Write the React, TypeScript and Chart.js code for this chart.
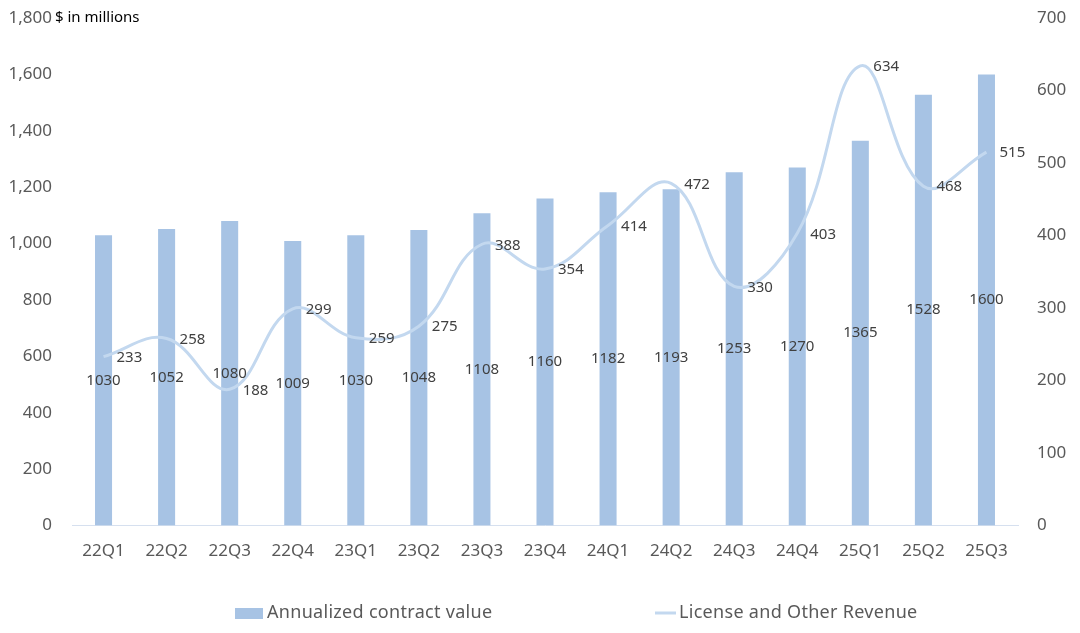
import React, { useEffect, useRef } from "react";
import { Chart, registerables } from "chart.js";

Chart.register(...registerables);

const categories = ["22Q1","22Q2","22Q3","22Q4","23Q1","23Q2","23Q3","23Q4","24Q1","24Q2","24Q3","24Q4","25Q1","25Q2","25Q3"];
const acvValues = [1030,1052,1080,1009,1030,1048,1108,1160,1182,1193,1253,1270,1365,1528,1600];
const licenseValues = [233,258,188,299,259,275,388,354,414,472,330,403,634,468,515];
const barLabel = "Annualized contract value";
const lineLabel = "License and Other Revenue";
const unitLabel = "$ in millions";

const FONT = "'Noto Sans', sans-serif";
const BAR_COLOR = "#a7c3e4";
const LINE_COLOR = "#c3d8ef";

const labelPlugin = {
  id: "customLabels",
  afterDatasetsDraw(chart: any) {
    const ctx = chart.ctx;
    ctx.save();
    ctx.font = `15px ${FONT}`;
    ctx.fillStyle = "#404040";
    ctx.textBaseline = "middle";
    const barMeta = chart.getDatasetMeta(0);
    ctx.textAlign = "center";
    barMeta.data.forEach((el: any, i: number) => {
      const y = (el.y + el.base) / 2;
      ctx.fillText(String(chart.data.datasets[0].data[i]), el.x, y);
    });
    const lineMeta = chart.getDatasetMeta(1);
    ctx.textAlign = "left";
    lineMeta.data.forEach((el: any, i: number) => {
      ctx.fillText(String(chart.data.datasets[1].data[i]), el.x + 13, el.y + 1);
    });
    ctx.restore();
  },
  afterDraw(chart: any) {
    const ctx = chart.ctx;
    const y = chart.scales.y;
    ctx.save();
    ctx.font = `15px ${FONT}`;
    ctx.fillStyle = "#000000";
    ctx.textBaseline = "middle";
    ctx.textAlign = "left";
    ctx.fillText(unitLabel, 55, y.getPixelForValue(1800));
    const ly = 613;
    ctx.font = `18px ${FONT}`;
    (ctx as any).letterSpacing = "0.3px";
    ctx.fillStyle = BAR_COLOR;
    ctx.fillRect(235, ly - 5, 28, 11);
    ctx.fillStyle = "#595959";
    ctx.fillText(barLabel, 267, ly);
    ctx.strokeStyle = LINE_COLOR;
    ctx.lineWidth = 3;
    ctx.beginPath();
    ctx.moveTo(655, ly);
    ctx.lineTo(676, ly);
    ctx.stroke();
    ctx.fillText(lineLabel, 679, ly);
    ctx.restore();
  },
};

export default function App() {
  const ref = useRef<HTMLCanvasElement>(null);
  useEffect(() => {
    document.body.style.margin = "0";
    const chart = new Chart(ref.current as HTMLCanvasElement, {
      type: "bar",
      data: {
        labels: categories,
        datasets: [
          {
            type: "bar",
            label: barLabel,
            data: acvValues,
            backgroundColor: BAR_COLOR,
            barPercentage: 0.9,
            categoryPercentage: 0.3,
            yAxisID: "y",
            order: 2,
          },
          {
            type: "line",
            label: lineLabel,
            data: licenseValues,
            borderColor: LINE_COLOR,
            borderWidth: 3,
            pointRadius: 0,
            tension: 0.4,
            fill: false,
            yAxisID: "y1",
            order: 1,
          },
        ],
      } as any,
      options: {
        animation: false,
        responsive: true,
        maintainAspectRatio: false,
        layout: { padding: { top: 0, bottom: 57, left: 0, right: 8 } },
        plugins: { legend: { display: false }, tooltip: { enabled: false } },
        scales: {
          x: {
            grid: { display: false, drawTicks: false },
            border: { display: true, color: "#d6e0ef", width: 1 },
            ticks: { color: "#595959", font: { family: FONT, size: 17 }, padding: 15 },
          },
          y: {
            position: "left",
            min: 0,
            max: 1800,
            afterFit: (s: any) => { s.width = 72; s.paddingTop = 18; },
            grid: { display: false, drawTicks: false },
            border: { display: false },
            ticks: {
              stepSize: 200,
              color: "#595959",
              font: { family: FONT, size: 17 },
              padding: 20,
              callback: (v: any) => Number(v).toLocaleString("en-US"),
            },
          },
          y1: {
            position: "right",
            min: 0,
            max: 700,
            afterFit: (s: any) => { s.width = 54; s.paddingTop = 18; },
            grid: { display: false, drawTicks: false },
            border: { display: false },
            ticks: { stepSize: 100, color: "#595959", font: { family: FONT, size: 17 }, padding: 19 },
          },
        },
      } as any,
      plugins: [labelPlugin],
    });
    return () => chart.destroy();
  }, []);
  return (
    <div style={{ width: 1080, height: 633, position: "relative", background: "#fff" }}>
      <canvas ref={ref} />
    </div>
  );
}
